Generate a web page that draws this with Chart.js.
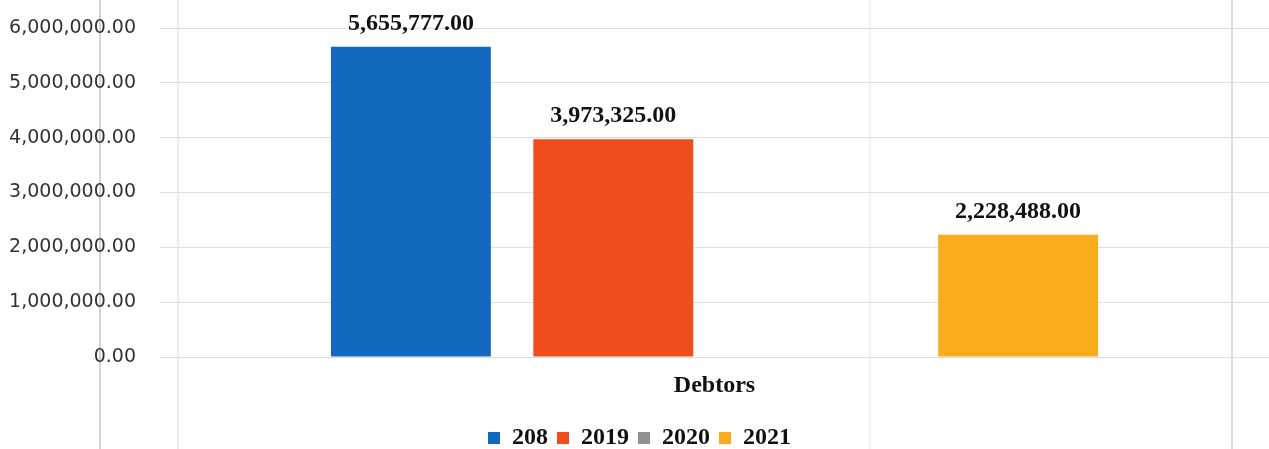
<!DOCTYPE html>
<html>
<head>
<meta charset="utf-8">
<script src="https://cdn.jsdelivr.net/npm/chart.js@4"></script>
<style>
  html, body { margin: 0; padding: 0; background: #fff; }
  #wrap { width: 1269px; height: 449px; position: relative; }
</style>
</head>
<body>
<div id="wrap"><canvas id="chart"></canvas></div>
<script>
const Categories = ["Debtors"];
const SeriesNames = ["208", "2019", "2020", "2021"];
const Values208 = [5655777];
const Values2019 = [3973325];
const Values2020 = [null];
const Values2021 = [2228488];
const SeriesColors = ["#1369c0", "#ef4d1b", "#8f8f8f", "#fbab1e"];

const serif = "'Liberation Serif', 'Times New Roman', serif";

function money(v) {
    return v.toLocaleString('en-US', { minimumFractionDigits: 2, maximumFractionDigits: 2 });
}

// faint page lines from the scanned sheet
const pageLines = {
    id: 'pageLines',
    beforeDraw(chart) {
        const ctx = chart.ctx;
        const lines = [[100, '#d6d3d8', 2], [178, '#e6cfe0', 1], [870, '#e2e1e6', 1], [1232, '#dcdaf0', 2]];
        ctx.save();
        lines.forEach(function (l) {
            ctx.strokeStyle = l[1];
            ctx.lineWidth = l[2];
            ctx.beginPath();
            ctx.moveTo(l[0], 0);
            ctx.lineTo(l[0], chart.height);
            ctx.stroke();
        });
        ctx.restore();
    }
};

const barLabels = {
    id: 'barLabels',
    afterDatasetsDraw(chart) {
        const ctx = chart.ctx;
        ctx.save();
        ctx.font = "bold 24px " + serif;
        ctx.fillStyle = "#111";
        ctx.textAlign = 'center';
        ctx.textBaseline = 'alphabetic';
        chart.data.datasets.forEach(function (ds, i) {
            const meta = chart.getDatasetMeta(i);
            meta.data.forEach(function (bar, j) {
                const v = ds.data[j];
                if (v === null || v === undefined) return;
                ctx.fillText(money(v), bar.x, bar.y - 17);
            });
        });
        ctx.restore();
    }
};

new Chart(document.getElementById("chart"), {
    type: 'bar',
    data: {
        labels: Categories,
        datasets: [
            { label: SeriesNames[0], data: Values208, backgroundColor: SeriesColors[0] },
            { label: SeriesNames[1], data: Values2019, backgroundColor: SeriesColors[1] },
            { label: SeriesNames[2], data: Values2020, backgroundColor: SeriesColors[2] },
            { label: SeriesNames[3], data: Values2021, backgroundColor: SeriesColors[3] }
        ]
    },
    options: {
        responsive: true,
        maintainAspectRatio: false,
        animation: false,
        layout: { padding: { top: 28, left: 10, right: 0, bottom: -11 } },
        datasets: {
            bar: { categoryPercentage: 0.73, barPercentage: 0.79 }
        },
        scales: {
            x: {
                grid: { display: false },
                border: { display: false },
                ticks: { color: "#111", font: { family: serif, size: 24, weight: 'bold' }, padding: 6 },
                afterFit: function (scale) { scale.height = 60; }
            },
            y: {
                min: 0,
                max: 6000000,
                grid: { color: "#dfdde8", drawTicks: true, tickLength: 20, tickColor: "rgba(0,0,0,0)" },
                border: { display: false },
                ticks: {
                    stepSize: 1000000,
                    color: "#333",
                    padding: 4,
                    font: { family: "'DejaVu Sans', sans-serif", size: 19 },
                    callback: function (v) { return money(v); }
                },
                afterFit: function (scale) { scale.width = 150; }
            }
        },
        plugins: {
            legend: {
                position: 'bottom',
                labels: {
                    color: "#111",
                    boxWidth: 12,
                    boxHeight: 12,
                    padding: 9,
                    font: { family: serif, size: 24, weight: 'bold' }
                }
            },
            tooltip: { enabled: false }
        }
    },
    plugins: [pageLines, barLabels]
});
</script>
</body>
</html>
